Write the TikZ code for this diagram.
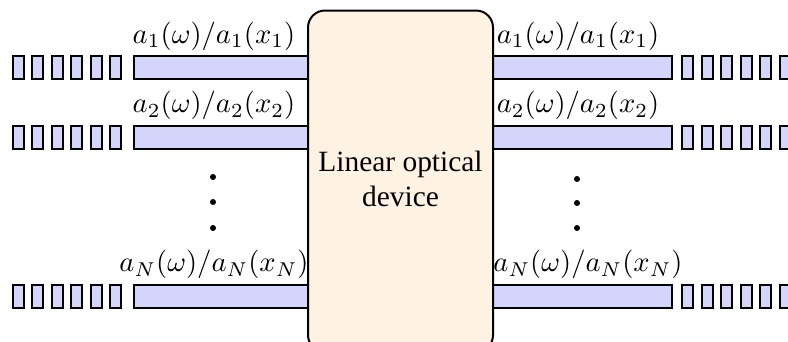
\documentclass[tikz,border=0pt]{standalone}
\usepackage{fontspec}
\setmainfont{Liberation Serif}
\definecolor{wavefill}{RGB}{213,213,251}
\definecolor{devfill}{RGB}{254,243,227}
\newcommand{\pxu}{0.35pt}
\tikzset{
  line/.style={line width=0.7pt},
  bar/.style={line, draw=black, fill=wavefill, inner sep=0pt, minimum height={23*\pxu}},
  pulse/.style={bar, minimum width={11*\pxu}},
  device/.style={line, draw=black, fill=devfill, rounded corners={17*\pxu}},
  lbl/.style={anchor=south, inner sep=0pt, font=\fontsize{9.6}{11}\selectfont},
  vdot/.style={circle, fill=black, inner sep=0pt, minimum size={6*\pxu}}
}
\begin{document}
\begin{tikzpicture}[x=\pxu, y=-\pxu]
\useasboundingbox (0,0) rectangle (788,341);
\clip (0,0) rectangle (788,341);
% input and output guides, one pair per mode
\foreach \r/\yy in {1/67.5, 2/137, 3/296} {
  \node[bar, minimum width={174*\pxu}] (inbar\r) at (221,\yy) {};
  \node[bar, minimum width={179*\pxu}] (outbar\r) at (582.5,\yy) {};
  \foreach \k in {0,...,5} {
    \node[pulse] (inpulse\r\k) at ({18+19.5*\k},\yy) {};
    \node[pulse] (outpulse\r\k) at ({687.5+19.5*\k},\yy) {};
  }
}
% the device itself
\draw[device] (308,10.5) rectangle (493,352);
\node[align=center, font=\fontsize{10.3}{12}\selectfont] (dev) at (400.5,179) {Linear optical\\device};
% mode labels
\node[lbl] (inlab1) at (214,51) {$a_1(\omega)/a_1(x_1)$};
\node[lbl] (inlab2) at (214,120.5) {$a_2(\omega)/a_2(x_2)$};
\node[lbl] (inlabN) at (214,279.5) {$a_N(\omega)/a_N(x_N)$};
\node[lbl] (outlab1) at (578,51) {$a_1(\omega)/a_1(x_1)$};
\node[lbl] (outlab2) at (578,120.5) {$a_2(\omega)/a_2(x_2)$};
\node[lbl] (outlabN) at (588,279.5) {$a_N(\omega)/a_N(x_N)$};
% vertical ellipses
\foreach \yy [count=\i] in {177,202,228} {
  \node[vdot] (ldot\i) at (213,\yy) {};
}
\foreach \yy [count=\i] in {179,203,228} {
  \node[vdot] (rdot\i) at (577,\yy) {};
}
\end{tikzpicture}
\end{document}
